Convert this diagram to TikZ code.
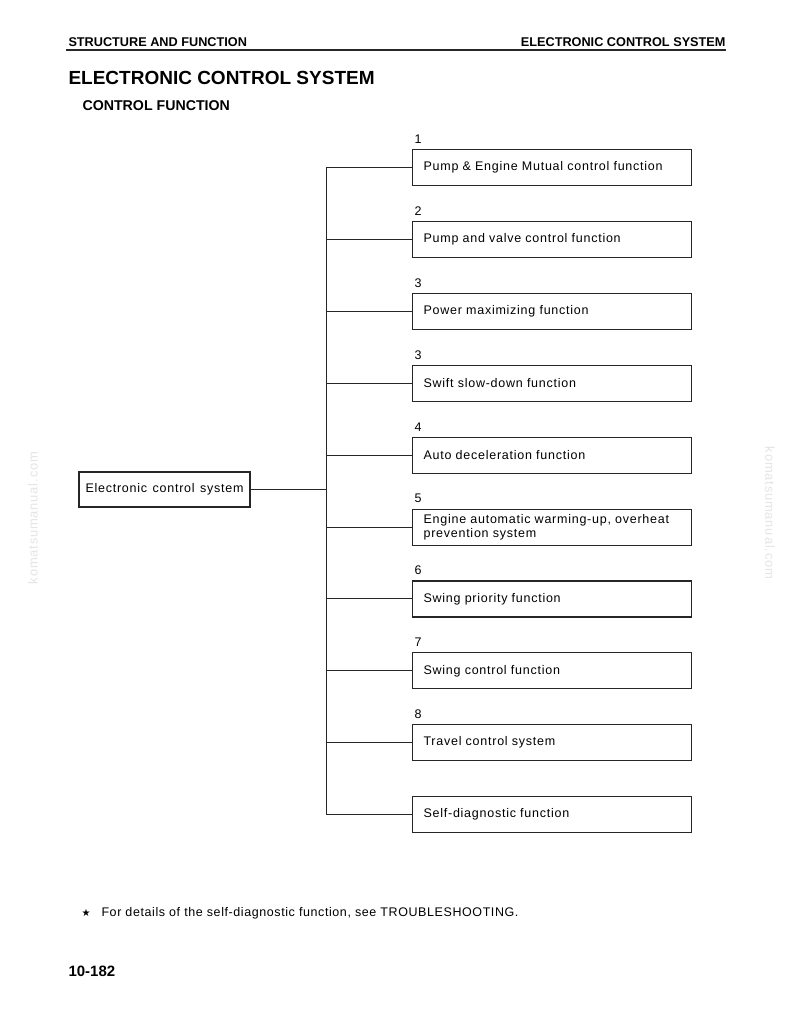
\documentclass[tikz,border=0pt]{standalone}
\usepackage{fontspec}
\setmainfont{Liberation Sans}
\newfontfamily\widefont[LetterSpace=6, WordSpace=1.3]{Liberation Sans}
\newfontfamily\notefont[LetterSpace=4.7]{Liberation Sans}
\newfontfamily\symfont{DejaVu Sans}
\usetikzlibrary{positioning}
\begin{document}
\begin{tikzpicture}[x=1pt, y=-1pt, node distance=34.8pt,
    line width=1pt, draw=black!85,
    fbox/.style={draw, line width=1.1pt, anchor=north west, text width=257pt, inner xsep=11pt,
        minimum height=36pt, align=left, font=\widefont\fontsize{12.5}{14.5}\selectfont},
    num/.style={font=\fontsize{12.5}{14}\selectfont, inner sep=0pt, anchor=south west},
    wmark/.style={text=black!10, font=\widefont\fontsize{13}{15}\selectfont}]
    \useasboundingbox[fill=white] (0,0) rectangle (794,1020);
    % page header
    \node (hl) [anchor=base west, inner sep=0pt, font=\bfseries\fontsize{12.7}{14}\selectfont] at (68,46.5) {STRUCTURE AND FUNCTION};
    \node (hr) [anchor=base east, inner sep=0pt, font=\bfseries\fontsize{12.7}{14}\selectfont] at (726,46.5) {ELECTRONIC CONTROL SYSTEM};
    \draw[line width=1.3pt] (66,50) -- (726,50);
    \node (title) [anchor=base west, inner sep=0pt, font=\bfseries\fontsize{19}{22}\selectfont] at (68,84.3) {ELECTRONIC CONTROL SYSTEM};
    \node (sub) [anchor=base west, inner sep=0pt, font=\bfseries\fontsize{14.2}{17}\selectfont] at (82,110) {CONTROL FUNCTION};
    % boxes
    \node (f1) [fbox] at (412,149) {Pump \& Engine Mutual control function};
    \node (f2) [fbox, below=of f1] {Pump and valve control function};
    \node (f3) [fbox, below=of f2] {Power maximizing function};
    \node (f4) [fbox, below=of f3] {Swift slow-down function};
    \node (f5) [fbox, below=of f4] {Auto deceleration function};
    \node (f6) [fbox, below=of f5] {Engine automatic warming-up, overheat\\prevention system};
    \node (f7) [fbox, below=of f6] {Swing priority function};
    \node (f8) [fbox, below=of f7] {Swing control function};
    \node (f9) [fbox, below=of f8] {Travel control system};
    \node (f10) [fbox, below=of f9] {Self-diagnostic function};
    % numbers
    \node (n1) [num] at ([xshift=2pt, yshift=5pt]f1.north west) {1};
    \node (n2) [num] at ([xshift=2pt, yshift=5pt]f2.north west) {2};
    \node (n3) [num] at ([xshift=2pt, yshift=5pt]f3.north west) {3};
    \node (n4) [num] at ([xshift=2pt, yshift=5pt]f4.north west) {3};
    \node (n5) [num] at ([xshift=2pt, yshift=5pt]f5.north west) {4};
    \node (n6) [num] at ([xshift=2pt, yshift=5pt]f6.north west) {5};
    \node (n7) [num] at ([xshift=2pt, yshift=5pt]f7.north west) {6};
    \node (n8) [num] at ([xshift=2pt, yshift=5pt]f8.north west) {7};
    \node (n9) [num] at ([xshift=2pt, yshift=5pt]f9.north west) {8};
    \node (sys) [draw, line width=1.1pt, minimum width=171pt, minimum height=35pt, inner sep=0pt, font=\widefont\fontsize{12.5}{14.5}\selectfont] at (164.5,489.5) {Electronic control system};
    \coordinate (trunk) at (326,0);
    % connectors
    \draw (trunk |- f1.west) -- (trunk |- f10.west);
    \draw (sys.east) -- (sys.east -| trunk);
    \draw (trunk |- f1.west) -- (f1.west);
    \draw (trunk |- f2.west) -- (f2.west);
    \draw (trunk |- f3.west) -- (f3.west);
    \draw (trunk |- f4.west) -- (f4.west);
    \draw (trunk |- f5.west) -- (f5.west);
    \draw (trunk |- f6.west) -- (f6.west);
    \draw (trunk |- f7.west) -- (f7.west);
    \draw (trunk |- f8.west) -- (f8.west);
    \draw (trunk |- f9.west) -- (f9.west);
    \draw (trunk |- f10.west) -- (f10.west);
    % note and page number
    \node (star) [anchor=base west, inner sep=0pt, font=\symfont\fontsize{10}{12}\selectfont] at (81,916) {★};
    \node (note) [anchor=base west, inner sep=0pt, font=\notefont\fontsize{12.5}{14}\selectfont] at (101,916) {For details of the self-diagnostic function, see TROUBLESHOOTING.};
    \node (page) [anchor=base west, inner sep=0pt, font=\bfseries\fontsize{15}{18}\selectfont] at (68,976) {10-182};
    % watermarks
    \node (wl) [wmark, rotate=90] at (33,518) {komatsumanual.com};
    \node (wr) [wmark, rotate=-90] at (770,513) {komatsumanual.com};
\end{tikzpicture}
\end{document}
